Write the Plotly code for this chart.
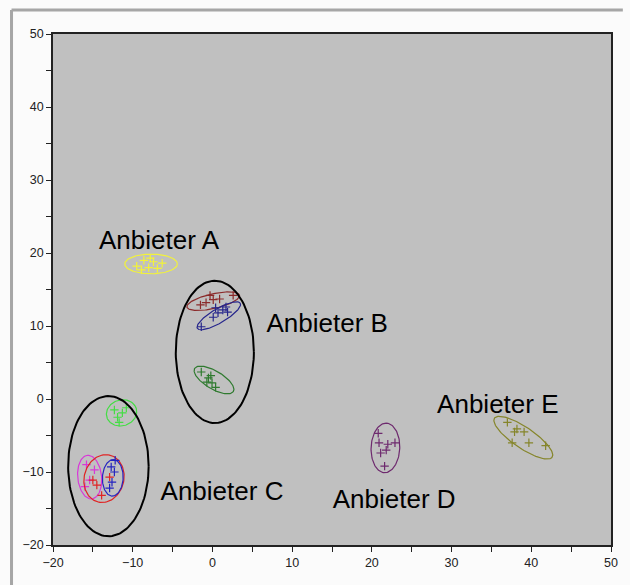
import numpy as np
import plotly.graph_objects as go

# ---- data ----
groups = ["A", "B1", "B2", "B3", "C1", "C2", "C3", "C4", "D", "E"]
colors = ["#f2f23a", "#8b2a2a", "#26268c", "#2f7a2f", "#44dd44",
          "#d838d8", "#e02424", "#2424c0", "#6e2a6e", "#85852a"]

pts_x = [
    [-9.5, -8.6, -8.0, -7.4, -6.9, -6.3, -7.8, -8.9],
    [-1.5, -0.8, -0.3, 0.9, 2.6, 0.1],
    [-1.4, 0.1, 0.7, 1.3, 1.7, 0.4, 1.9],
    [-1.4, -0.5, -0.05, -0.7, 0.4, -0.2],
    [-11.9, -11.3, -10.8, -11.7, -12.3],
    [-15.8, -15.4, -16.0, -14.8],
    [-15.0, -13.9, -12.9, -14.5],
    [-12.7, -12.6, -12.9, -12.3, -12.2],
    [20.8, 20.9, 22.0, 22.9, 21.1, 21.8, 21.6],
    [37.0, 38.2, 39.1, 37.6, 39.7, 41.8, 37.9],
]
pts_y = [
    [18.2, 19.0, 18.0, 18.8, 17.9, 18.6, 19.3, 17.7],
    [12.9, 13.2, 14.2, 13.7, 14.2, 13.6],
    [9.9, 11.2, 11.8, 12.2, 12.6, 12.5, 11.9],
    [3.7, 2.9, 2.2, 2.3, 1.6, 3.2],
    [-2.5, -1.9, -1.2, -3.2, -1.5],
    [-9.0, -11.1, -12.0, -9.7],
    [-11.1, -13.2, -10.7, -11.8],
    [-9.3, -11.4, -12.2, -10.0, -8.4],
    [-4.7, -6.0, -6.2, -6.0, -7.4, -7.0, -9.2],
    [-3.2, -4.1, -4.5, -6.0, -6.0, -6.4, -4.5],
]

# ellipse parameters per group: centre x, centre y, semi-axis a, semi-axis b, angle (deg)
ell_cx = [-7.7, 0.1, 0.8, 0.2, -11.4, -15.4, -13.6, -12.5, 21.7, 39.0]
ell_cy = [18.5, 13.4, 11.4, 2.6, -1.9, -10.7, -10.9, -10.8, -6.7, -5.3]
ell_a = [3.3, 3.4, 3.2, 2.9, 1.95, 3.0, 3.3, 2.5, 3.4, 4.5]
ell_b = [1.35, 1.0, 0.95, 1.2, 1.75, 1.5, 2.5, 1.3, 1.8, 1.4]
ell_ang = [0, 14, 33, -34, 30, 95, 80, 88, 88, -37]

# black highlight ellipses
hl_cx = [0.3, -13.05]
hl_cy = [6.45, -9.2]
hl_rx = [4.9, 5.05]
hl_ry = [9.75, 9.6]

labels = ["Anbieter A", "Anbieter B", "Anbieter C", "Anbieter D", "Anbieter E"]
lab_x = [-6.7, 14.4, 1.2, 22.8, 35.8]
lab_y = [21.4, 10.1, -13.0, -14.0, -1.0]

x_range = [-20, 50]
y_range = [-20, 50]


def ellipse(cx, cy, a, b, ang, n=120):
    t = np.linspace(0, 2 * np.pi, n)
    r = np.deg2rad(ang)
    ex = a * np.cos(t)
    ey = b * np.sin(t)
    return cx + ex * np.cos(r) - ey * np.sin(r), cy + ex * np.sin(r) + ey * np.cos(r)


fig = go.Figure()

for i, g in enumerate(groups):
    ex, ey = ellipse(ell_cx[i], ell_cy[i], ell_a[i], ell_b[i], ell_ang[i])
    fig.add_trace(go.Scatter(x=ex, y=ey, mode="lines",
                             line=dict(color=colors[i], width=1.2),
                             hoverinfo="skip", showlegend=False))
    fig.add_trace(go.Scatter(x=pts_x[i], y=pts_y[i], mode="markers",
                             marker=dict(symbol="cross-thin", size=6,
                                         line=dict(color=colors[i], width=1.2)),
                             name=g, showlegend=False))

for i in range(len(hl_cx)):
    ex, ey = ellipse(hl_cx[i], hl_cy[i], hl_rx[i], hl_ry[i], 0)
    fig.add_trace(go.Scatter(x=ex, y=ey, mode="lines",
                             line=dict(color="black", width=2),
                             hoverinfo="skip", showlegend=False))

fig.add_trace(go.Scatter(x=lab_x, y=lab_y, mode="text", text=labels,
                         textfont=dict(family="Liberation Sans, Arial", size=26, color="black"),
                         hoverinfo="skip", showlegend=False))

# window frame (top and left borders of the screenshot)
W, H = 630, 585
ml, mr, mt, mb = 53, 12, 34, 40
pw, ph = W - ml - mr, H - mt - mb
fx = (11 - ml) / pw
fy = 1 + (mt - 10) / ph
fig.add_shape(type="line", xref="paper", yref="paper", x0=fx, x1=1 + mr / pw, y0=fy, y1=fy,
              line=dict(color="#a6a6a6", width=3))
fig.add_shape(type="line", xref="paper", yref="paper", x0=fx, x1=fx, y0=fy, y1=-mb / ph,
              line=dict(color="#a6a6a6", width=3))

axis_common = dict(showgrid=False, zeroline=False, showline=True, linecolor="#222",
                   linewidth=1.5, mirror=True, ticks="outside", ticklen=5, tickcolor="#222",
                   tickfont=dict(family="Liberation Sans, Arial", size=12.5, color="#222"),
                   dtick=10, minor=dict(dtick=5, ticks="outside", ticklen=5, tickcolor="#222"))

fig.update_layout(
    width=W, height=H,
    margin=dict(l=ml, r=mr, t=mt, b=mb),
    paper_bgcolor="#fbfbfb",
    plot_bgcolor="#c0c0c0",
    xaxis=dict(range=x_range, tick0=-20, **axis_common),
    yaxis=dict(range=y_range, tick0=-20, **axis_common),
)

fig.write_html("out.html")
